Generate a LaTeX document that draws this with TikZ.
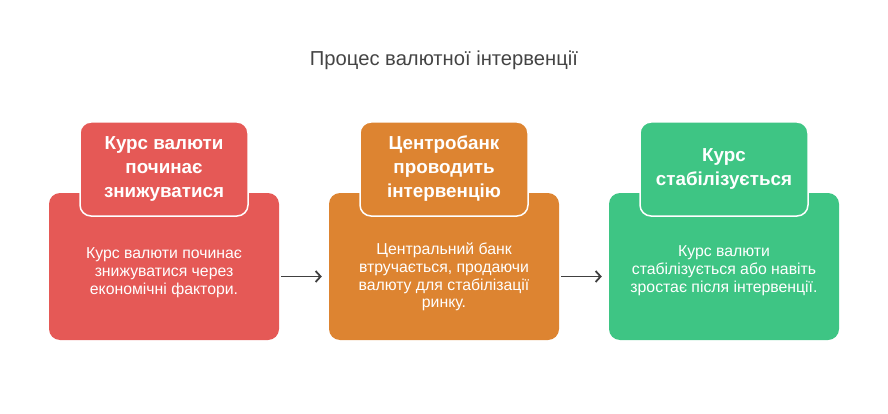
\documentclass[tikz,border=0pt]{standalone}
\usepackage{fontspec}
\setmainfont{Liberation Sans}
\usepackage{tikz}
\usetikzlibrary{arrows.meta}
\definecolor{cardred}{RGB}{229,89,86}
\definecolor{cardorange}{RGB}{221,132,49}
\definecolor{cardgreen}{RGB}{62,197,132}
\definecolor{titlegray}{RGB}{68,68,68}
\definecolor{arrowgray}{RGB}{64,64,64}

\begin{document}
\begin{tikzpicture}[x=1pt, y=-1pt, card/.style = {shape=rectangle, rounded corners=11pt, minimum width=230pt, minimum height=147pt}, head/.style = {shape=rectangle, draw=white, line width=1.5pt, rounded corners=11pt, align=center, text=white, font=\fontsize{18.8}{24}\selectfont\bfseries, minimum width=168pt, minimum height=94pt}, body/.style = {align=center, text=white, font=\fontsize{15.8}{17.8}\selectfont}, flow/.style = {draw=arrowgray, line width=1.8pt, -{Straight Barb[length=5pt, width=11pt]}, shorten <=2pt, shorten >=7pt}]
	\useasboundingbox (0,0) rectangle (888,414);
	\node[text=titlegray, font=\fontsize{20.2}{24}\selectfont] (title) at (444,60) {Процес валютної інтервенції};
	% cards
	\node[card, fill=cardred] (card1) at (164,266.5) {};
	\node[card, fill=cardorange] (card2) at (444,266.5) {};
	\node[card, fill=cardgreen] (card3) at (724,266.5) {};
	\node[head, fill=cardred] (head1) at (164,169) {Курс валюти\\починає\\знижуватися};
	\node[head, fill=cardorange] (head2) at (444,169) {Центробанк\\проводить\\інтервенцію};
	\node[head, fill=cardgreen] (head3) at (724,169) {Курс\\стабілізується};
	\node[body] (text1) at (164,273) {Курс валюти починає\\знижуватися через\\економічні фактори.};
	\node[body] (text2) at (444,277) {Центральний банк\\втручається, продаючи\\валюту для стабілізації\\ринку.};
	\node[body] (text3) at (724,271) {Курс валюти\\стабілізується або навіть\\зростає після інтервенції.};
	% arrows
	\draw[flow] ([yshift=-10pt]card1.east) -- ([yshift=-10pt]card2.west);
	\draw[flow] ([yshift=-10pt]card2.east) -- ([yshift=-10pt]card3.west);
\end{tikzpicture}
\end{document}
